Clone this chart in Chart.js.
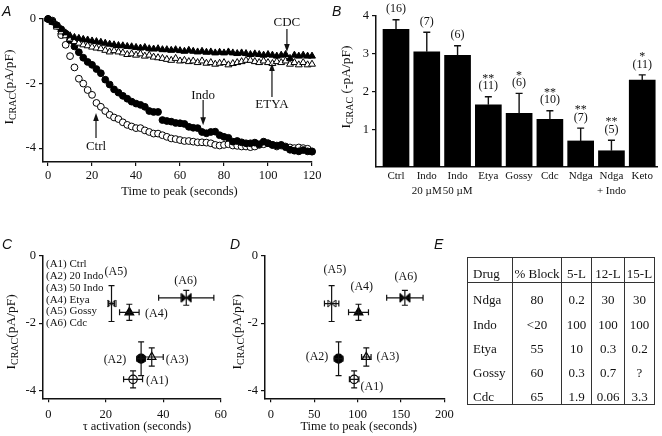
<!DOCTYPE html>
<html><head><meta charset="utf-8">
<script src="https://cdn.jsdelivr.net/npm/chart.js@4.4.0/dist/chart.umd.min.js"></script>
<style>
html,body{margin:0;padding:0;background:#fff;}
#wrap{position:relative;width:662px;height:436px;overflow:hidden;background:#fff;}
canvas{position:absolute;}
.pl{position:absolute;font:italic 14px 'Liberation Sans',Arial,sans-serif;line-height:14px;color:#111;}
#tbl{position:absolute;left:467px;top:257px;width:187px;border-collapse:collapse;table-layout:fixed;font:13px 'Liberation Serif','Times New Roman',serif;color:#111;border:1.5px solid #333;will-change:transform;}
#tbl th,#tbl td{border-left:1.5px solid #333;border-right:1.5px solid #333;padding:0;text-align:center;vertical-align:bottom;line-height:15px;white-space:nowrap;font-weight:normal;overflow:visible;}
#tbl th{height:23px;border-bottom:1px solid #333;padding-bottom:1px;}
#tbl td{height:24.3px;}
#tbl th:first-child,#tbl td:first-child{text-align:left;padding-left:5px;}
</style></head>
<body>
<div id="wrap">
<canvas id="cA" width="330" height="210" style="left:0;top:0"></canvas>
<canvas id="cB" width="332" height="210" style="left:330px;top:0"></canvas>
<canvas id="cC" width="232" height="216" style="left:0;top:220px"></canvas>
<canvas id="cD" width="235" height="216" style="left:225px;top:220px"></canvas>
<table id="tbl"></table>
<div class="pl" style="left:2px;top:4px">A</div>
<div class="pl" style="left:332px;top:4px">B</div>
<div class="pl" style="left:2px;top:237px">C</div>
<div class="pl" style="left:230px;top:237px">D</div>
<div class="pl" style="left:434px;top:237px">E</div>
</div>
<script>
// ---------- Panel A data ----------
const timeA = [0,2,4,6,8,10,12,14,16,18,20,22,24,26,28,30,32,34,36,38,40,42,44,46,48,50,52,54,56,58,
  60,62,64,66,68,70,72,74,76,78,80,82,84,86,88,90,92,94,96,98,100,102,104,106,108,110,112,114,116,118,120];
const ctrlA = [0,-0.05,-0.2,-0.5,-0.8,-1.15,-1.5,-1.85,-2.0,-2.2,
  -2.35,-2.6,-2.72,-2.85,-2.97,-3.05,-3.1,-3.2,-3.28,-3.33,
  -3.38,-3.38,-3.45,-3.5,-3.55,-3.55,-3.6,-3.65,-3.7,-3.72,
  -3.75,-3.78,-3.78,-3.8,-3.82,-3.82,-3.83,-3.85,-3.9,-3.92,
  -3.9,-3.88,-3.92,-3.93,-3.95,-3.95,-3.97,-3.95,-3.9,-3.88,
  -3.85,-3.9,-3.95,-3.92,-3.95,-3.98,-4.0,-3.98,-4.0,-4.02,
  -4.1];
const indoA = [0,-0.08,-0.2,-0.32,-0.45,-0.65,-0.85,-1.03,-1.2,-1.33,
  -1.42,-1.55,-1.68,-1.88,-2.03,-2.18,-2.28,-2.38,-2.47,-2.56,
  -2.62,-2.66,-2.72,-2.85,-2.88,-2.88,-3.13,-3.16,-3.18,-3.22,
  -3.23,-3.25,-3.34,-3.37,-3.38,-3.5,-3.54,-3.5,-3.49,-3.6,
  -3.65,-3.68,-3.8,-3.78,-3.82,-3.85,-3.85,-3.83,-3.88,-3.8,
  -3.85,-3.9,-3.92,-3.9,-3.97,-4.05,-4.08,-4.1,-4.06,-4.1,
  -4.11];
const cdcA = [0,-0.1,-0.2,-0.33,-0.43,-0.52,-0.57,-0.6,-0.63,-0.65,
  -0.68,-0.7,-0.72,-0.75,-0.78,-0.8,-0.82,-0.83,-0.85,-0.86,
  -0.88,-0.9,-0.88,-0.92,-0.93,-0.92,-0.95,-0.95,-0.97,-0.95,
  -0.98,-1.0,-0.97,-1.0,-1.02,-1.0,-1.03,-1.02,-1.05,-1.03,
  -1.05,-1.02,-1.05,-1.07,-1.05,-1.07,-1.1,-1.08,-1.1,-1.12,
  -1.1,-1.12,-1.15,-1.12,-1.1,-1.22,-1.12,-1.15,-1.12,-1.15,
  -1.15];
const etyaA = [0,-0.08,-0.25,-0.4,-0.52,-0.62,-0.7,-0.75,-0.8,-0.83,
  -0.87,-0.9,-0.92,-0.97,-1.02,-0.98,-1.02,-1.05,-1.1,-1.08,
  -1.12,-1.08,-1.15,-1.12,-1.18,-1.2,-1.22,-1.25,-1.28,-1.22,
  -1.3,-1.28,-1.32,-1.3,-1.35,-1.3,-1.37,-1.35,-1.4,-1.37,
  -1.35,-1.42,-1.38,-1.35,-1.32,-1.28,-1.28,-1.32,-1.35,-1.3,
  -1.35,-1.38,-1.32,-1.35,-1.3,-1.4,-1.35,-1.42,-1.35,-1.42,
  -1.4];
const ticksAx = [0,20,40,60,80,100,120];
const ticksAy = [0,-2,-4];
// annotations (data coordinates)
const annText = ['CDC','ETYA','Indo','Ctrl'];
const annX = [108.6,101.8,70.5,21.8];
const annTextY = [-0.12,-2.64,-2.36,-3.94];
const annFrom = [-0.31,-2.42,-2.51,-3.69];
const annTo = [-1.02,-1.36,-3.29,-2.91];

// ---------- Panel B data ----------
const barCats = ['Ctrl',['Indo','20 µM'],['Indo','50 µM'],'Etya','Gossy','Cdc','Ndga',['Ndga','+ Indo'],'Keto'];
const barVals = [3.65,3.05,2.96,1.65,1.42,1.26,0.69,0.43,2.3];
const barErr = [0.25,0.52,0.25,0.21,0.53,0.23,0.34,0.28,0.14];
const barN = ['(16)','(7)','(6)','(11)','(6)','(10)','(7)','(5)','(11)'];
const barSig = ['','','','**','*','**','**','**','*'];
const ticksBy = [1,2,3,4];

// ---------- Panels C & D data ----------
const ptLabels = ['(A1)','(A2)','(A3)','(A4)','(A5)','(A6)'];
const legendC = ['(A1) Ctrl','(A2) 20 Indo','(A3) 50 Indo','(A4) Etya','(A5) Gossy','(A6) Cdc'];
const iVal = [-3.66,-3.05,-3.0,-1.68,-1.42,-1.25];
const iErr = [0.25,0.5,0.27,0.24,0.53,0.22];
const tauVal = [29.5,32.3,36,28.2,22,48];
const tauErr = [3.3,1.5,4,3.4,1,9.6];
const peakVal = [96,78,110,101,70,154.5];
const peakErr = [5.5,5,5.5,11.5,8.3,21];
const cLabX = [37.9,23.2,44.8,37.6,23.5,47.8];
const cLabY = [-3.71,-3.07,-3.07,-1.72,-0.49,-0.75];
const dLabX = [116.5,53.1,134.8,104.7,73.8,155.7];
const dLabY = [-3.88,-3.0,-3.0,-0.93,-0.41,-0.64];
const ticksCx = [0,20,40,60];
const ticksDx = [0,50,100,150,200];
const ticksCy = [0,-2,-4];

// ---------- Panel E data ----------
const tblHead = ['Drug','% Block','5-L','12-L','15-L'];
const tblDrugs = ['Ndga','Indo','Etya','Gossy','Cdc'];
const tblBlock = ['80','<20','55','60','65'];
const tbl5L = ['0.2','100','10','0.3','1.9'];
const tbl12L = ['30','100','0.3','0.7','0.06'];
const tbl15L = ['30','100','0.2','?','3.3'];
const tblColW = [45,49,30,33,30];

// ---------- helpers ----------
const FONT = "'Liberation Serif','Times New Roman',serif";
const INK = '#111';

function linAxis(min, max, tickVals, size, isX, pad, extra) {
  return Object.assign({
    type: 'linear', min, max, offset: false,
    afterBuildTicks: s => { s.ticks = tickVals.map(v => ({ value: v })); },
    afterFit: s => { if (isX) s.height = size; else s.width = size; },
    grid: { display: true, drawOnChartArea: false, drawTicks: true, tickLength: 4, color: INK, lineWidth: 1.2, offset: false },
    border: { display: true, color: INK, width: 1.5 },
    ticks: { color: INK, font: { family: FONT, size: 12.5 }, padding: pad, autoSkip: false, maxRotation: 0 }
  }, extra || {});
}

function drawYTitle(ctx, cx, cy, parts) {
  ctx.save();
  ctx.translate(cx, cy);
  ctx.rotate(-Math.PI / 2);
  const big = `13.5px ${FONT}`, small = `10px ${FONT}`;
  ctx.font = big;
  const w1 = ctx.measureText(parts[0]).width, w3 = ctx.measureText(parts[2]).width;
  ctx.font = small;
  const w2 = ctx.measureText(parts[1]).width;
  let x = -(w1 + w2 + w3) / 2;
  ctx.textAlign = 'left'; ctx.textBaseline = 'alphabetic'; ctx.fillStyle = INK;
  ctx.font = big; ctx.fillText(parts[0], x, 4.5); x += w1;
  ctx.font = small; ctx.fillText(parts[1], x, 7.5); x += w2;
  ctx.font = big; ctx.fillText(parts[2], x, 4.5);
  ctx.restore();
}

function titlesPlugin(xt, xOff, xShift, yParts, yOffX, yOffY) {
  return { id: 'titles', afterDraw(chart) {
    const a = chart.chartArea, ctx = chart.ctx;
    ctx.save();
    ctx.fillStyle = INK; ctx.font = `12.5px ${FONT}`;
    ctx.textAlign = 'center'; ctx.textBaseline = 'middle';
    if (xt) ctx.fillText(xt, (a.left + a.right) / 2 + xShift, a.bottom + xOff);
    drawYTitle(ctx, a.left - yOffX, (a.top + a.bottom) / 2 + yOffY, yParts);
    ctx.restore();
  }};
}

function arrow(ctx, x, y0, y1) {
  const d = Math.sign(y1 - y0);
  ctx.lineWidth = 1.2;
  ctx.beginPath(); ctx.moveTo(x, y0); ctx.lineTo(x, y1 - d * 6); ctx.stroke();
  ctx.beginPath(); ctx.moveTo(x, y1); ctx.lineTo(x - 2.8, y1 - d * 8); ctx.lineTo(x + 2.8, y1 - d * 8); ctx.closePath(); ctx.fill();
}

function bowtie(w, h, filled) {
  const c = document.createElement('canvas');
  c.width = w + 2; c.height = h + 2;
  const g = c.getContext('2d');
  g.translate(1, 1);
  g.beginPath();
  g.moveTo(0, 0); g.lineTo(w / 2, h / 2); g.lineTo(0, h); g.closePath();
  g.moveTo(w, 0); g.lineTo(w / 2, h / 2); g.lineTo(w, h); g.closePath();
  g.fillStyle = filled ? '#000' : '#fff'; g.fill();
  g.lineWidth = 1; g.strokeStyle = '#000'; g.stroke();
  return c;
}

const baseOpts = {
  responsive: false, animation: false, events: [],
  plugins: { legend: { display: false }, tooltip: { enabled: false } }
};

// ---------- Chart A ----------
const ptsA = arr => timeA.map((t, i) => ({ x: t, y: arr[i] }));
const annA = { id: 'annA', afterDatasetsDraw(chart) {
  const { ctx, scales: { x, y } } = chart;
  ctx.save();
  ctx.fillStyle = INK; ctx.strokeStyle = INK;
  ctx.font = `13px ${FONT}`; ctx.textAlign = 'center'; ctx.textBaseline = 'middle';
  annText.forEach((t, i) => {
    const px = x.getPixelForValue(annX[i]);
    ctx.fillText(t, px, y.getPixelForValue(annTextY[i]));
    arrow(ctx, px, y.getPixelForValue(annFrom[i]), y.getPixelForValue(annTo[i]));
  });
  ctx.restore();
}};
new Chart(document.getElementById('cA'), {
  type: 'scatter',
  data: { datasets: [
    { data: ptsA(cdcA), pointStyle: 'triangle', pointRadius: 4, backgroundColor: '#000', borderColor: '#000', borderWidth: 1, clip: false },
    { data: ptsA(etyaA), pointStyle: 'triangle', pointRadius: 4, backgroundColor: '#fff', borderColor: '#000', borderWidth: 1, clip: false },
    { data: ptsA(indoA), pointStyle: 'circle', pointRadius: 3.4, backgroundColor: '#000', borderColor: '#000', borderWidth: 1, clip: false },
    { data: ptsA(ctrlA), pointStyle: 'circle', pointRadius: 3.4, backgroundColor: '#fff', borderColor: '#000', borderWidth: 1, clip: false }
  ]},
  options: Object.assign({}, baseOpts, {
    layout: { padding: { top: 19, right: 18, left: 0, bottom: 0 } },
    scales: {
      x: linAxis(-2.3, 120, ticksAx, 48, true, 2),
      y: linAxis(-4.43, 0, ticksAy, 43, false, 3)
    }
  }),
  plugins: [annA, titlesPlugin('Time to peak (seconds)', 30, 2, ['I', 'CRAC', '(pA/pF)'], 34.5, -3.5)]
});

// ---------- Chart B ----------
const errB = { id: 'errB', afterDatasetsDraw(chart) {
  const { ctx, scales: { x, y } } = chart;
  ctx.save();
  ctx.strokeStyle = INK; ctx.fillStyle = INK; ctx.lineWidth = 1.4;
  ctx.font = `12px ${FONT}`; ctx.textAlign = 'center'; ctx.textBaseline = 'middle';
  barVals.forEach((v, i) => {
    const px = x.getPixelForValue(i);
    const y0 = y.getPixelForValue(v), y1 = y.getPixelForValue(v + barErr[i]);
    ctx.beginPath(); ctx.moveTo(px, y0); ctx.lineTo(px, y1);
    ctx.moveTo(px - 3.5, y1); ctx.lineTo(px + 3.5, y1); ctx.stroke();
    ctx.fillText(barN[i], px, y1 - 10.5);
    if (barSig[i]) ctx.fillText(barSig[i], px, y1 - 18);
  });
  ctx.restore();
}};
new Chart(document.getElementById('cB'), {
  type: 'bar',
  data: { datasets: [{ data: barVals.map((v, i) => ({ x: i, y: v })), backgroundColor: '#000', borderWidth: 0, barThickness: 26 }] },
  options: Object.assign({}, baseOpts, {
    layout: { padding: { top: 16, right: 5, left: 0, bottom: 0 } },
    scales: {
      x: linAxis(-0.65, 8.48, barCats.map((c, i) => i), 43, true, 2, {
        grid: { display: true, drawOnChartArea: false, drawTicks: false, offset: false, color: INK },
        ticks: { color: INK, font: { family: FONT, size: 11, lineHeight: 1.35 }, padding: 2, autoSkip: false, maxRotation: 0,
          callback: v => barCats[v] }
      }),
      y: linAxis(0, 4, ticksBy, 46, false, 3)
    }
  }),
  plugins: [errB, titlesPlugin('', 0, 0, ['I', 'CRAC', ' (-pA/pF)'], 31, -4.5)]
});

// ---------- Charts C & D ----------
const mStyle = ['circle', 'circle', 'triangle', 'triangle', bowtie(8, 7, false), bowtie(10, 9, true)];
const mRad = [4.2, 4.5, 4.8, 5, 4, 5];
const mFill = ['#fff', '#000', '#fff', '#000', '#fff', '#000'];

function errPlugin(xv, xe, labX, labY, legend) {
  return { id: 'errXY', afterDatasetsDraw(chart) {
    const { ctx, scales: { x, y } } = chart;
    const a = chart.chartArea;
    ctx.save();
    ctx.strokeStyle = INK; ctx.fillStyle = INK; ctx.lineWidth = 1.2;
    xv.forEach((v, i) => {
      const px = x.getPixelForValue(v), py = y.getPixelForValue(iVal[i]);
      const xl = x.getPixelForValue(v - xe[i]), xr = x.getPixelForValue(v + xe[i]);
      const yt = y.getPixelForValue(iVal[i] + iErr[i]), yb = y.getPixelForValue(iVal[i] - iErr[i]);
      ctx.beginPath();
      ctx.moveTo(xl, py); ctx.lineTo(xr, py);
      ctx.moveTo(xl, py - 3); ctx.lineTo(xl, py + 3);
      ctx.moveTo(xr, py - 3); ctx.lineTo(xr, py + 3);
      ctx.moveTo(px, yt); ctx.lineTo(px, yb);
      ctx.moveTo(px - 3, yt); ctx.lineTo(px + 3, yt);
      ctx.moveTo(px - 3, yb); ctx.lineTo(px + 3, yb);
      ctx.stroke();
    });
    ctx.font = `12px ${FONT}`; ctx.textAlign = 'center'; ctx.textBaseline = 'middle';
    ptLabels.forEach((l, i) => ctx.fillText(l, x.getPixelForValue(labX[i]), y.getPixelForValue(labY[i])));
    if (legend) {
      ctx.font = `11px ${FONT}`; ctx.textAlign = 'left';
      legend.forEach((l, i) => ctx.fillText(l, a.left + 3, a.top + 8.5 + i * 11.9));
    }
    ctx.restore();
  }};
}

function scatterSets(xv) {
  return ptLabels.map((l, i) => ({
    data: [{ x: xv[i], y: iVal[i] }],
    pointStyle: mStyle[i], pointRadius: mRad[i], backgroundColor: mFill[i],
    borderColor: '#000', borderWidth: 1.2, clip: false
  }));
}

new Chart(document.getElementById('cC'), {
  type: 'scatter',
  data: { datasets: scatterSets(tauVal) },
  options: Object.assign({}, baseOpts, {
    layout: { padding: { top: 35.5, right: 10, left: 0, bottom: 0 } },
    scales: {
      x: linAxis(-1.83, 60, ticksCx, 37.7, true, 5),
      y: linAxis(-4.22, 0, ticksCy, 43, false, 3)
    }
  }),
  plugins: [errPlugin(tauVal, tauErr, cLabX, cLabY, legendC),
    titlesPlugin('τ activation (seconds)', 28, 5, ['I', 'CRAC', '(pA/pF)'], 33, 5)]
});

new Chart(document.getElementById('cD'), {
  type: 'scatter',
  data: { datasets: scatterSets(peakVal) },
  options: Object.assign({}, baseOpts, {
    layout: { padding: { top: 35.5, right: 15.7, left: 0, bottom: 0 } },
    scales: {
      x: linAxis(-6.9, 200, ticksDx, 37.7, true, 5),
      y: linAxis(-4.22, 0, ticksCy, 40, false, 3)
    }
  }),
  plugins: [errPlugin(peakVal, peakErr, dLabX, dLabY, null),
    titlesPlugin('Time to peak (seconds)', 28.5, 4, ['I', 'CRAC', '(pA/pF)'], 29, 5)]
});

// ---------- Table E ----------
(function () {
  const t = document.getElementById('tbl');
  let h = '<colgroup>' + tblColW.map(w => `<col style="width:${w}px">`).join('') + '</colgroup>';
  h += '<thead><tr>' + tblHead.map(c => `<th>${c.replace('<', '&lt;')}</th>`).join('') + '</tr></thead><tbody>';
  tblDrugs.forEach((d, i) => {
    h += '<tr>' + [d, tblBlock[i], tbl5L[i], tbl12L[i], tbl15L[i]].map(c => `<td>${c.replace('<', '&lt;')}</td>`).join('') + '</tr>';
  });
  h += '</tbody>';
  t.innerHTML = h;
})();
</script>
</body></html>
